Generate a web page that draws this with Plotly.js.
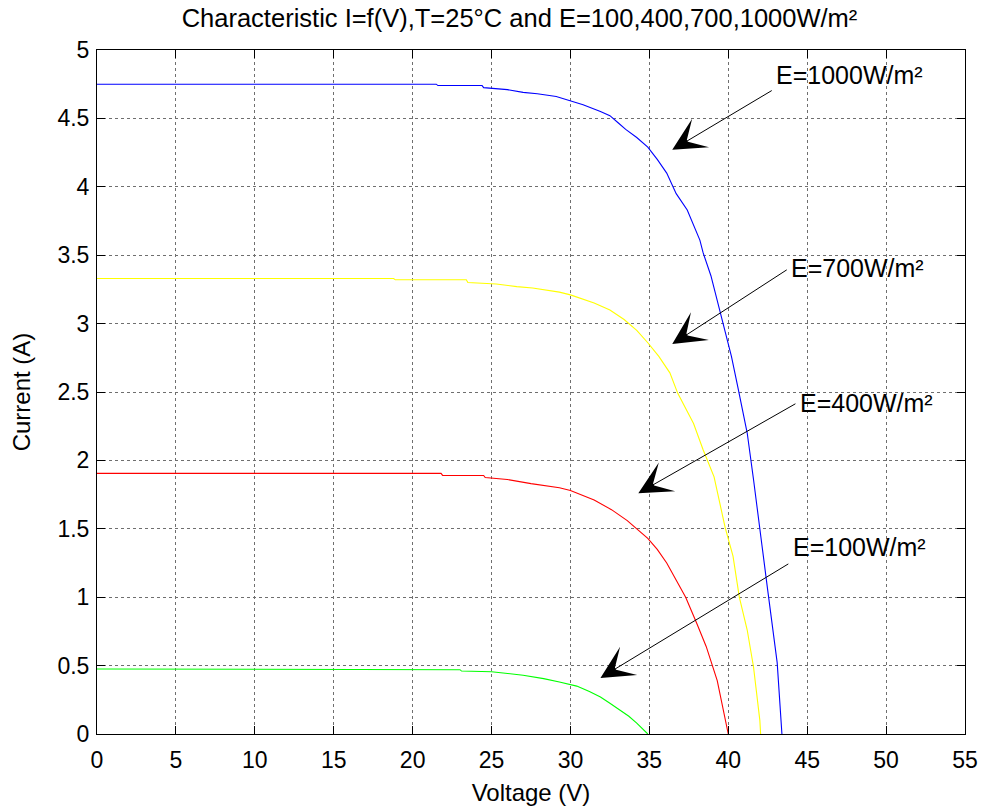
<!DOCTYPE html>
<html>
<head>
<meta charset="utf-8">
<script src="https://cdn.plot.ly/plotly-3.0.1.min.js"></script>
<style>html,body{margin:0;padding:0;background:#fff}#chart{width:983px;height:809px}</style>
</head>
<body>
<div id="chart"></div>
<script>
// E = 1000 W/m²
var v1000 = [0, 21.5, 21.6, 24.4, 24.5, 26, 27, 27.9, 29.1, 30, 30.8, 31.9, 32.5, 33.0, 33.5, 34.2, 34.9, 35.5, 36.1, 36.7, 37.4, 38.2, 38.4, 38.9, 39.3, 39.8, 40.2, 40.6, 41.2, 41.6, 42.0, 42.5, 43.1, 43.4];
var i1000 = [4.75, 4.75, 4.74, 4.74, 4.725, 4.71, 4.69, 4.68, 4.66, 4.63, 4.60, 4.55, 4.52, 4.47, 4.42, 4.36, 4.29, 4.20, 4.10, 3.95, 3.83, 3.61, 3.52, 3.35, 3.17, 2.95, 2.76, 2.54, 2.20, 1.86, 1.49, 1.05, 0.52, 0];
// E = 700 W/m²
var v700 = [0, 18.8, 18.9, 23.4, 23.5, 25.3, 26.6, 27.6, 29.3, 30, 31.5, 32.5, 33.4, 34.2, 34.9, 35.6, 36.3, 36.8, 37.8, 38.4, 39.1, 39.8, 40.3, 40.7, 41.2, 41.6, 42.0, 42.05];
var i700 = [3.33, 3.33, 3.32, 3.32, 3.30, 3.29, 3.27, 3.26, 3.23, 3.21, 3.15, 3.10, 3.03, 2.95, 2.86, 2.76, 2.64, 2.49, 2.27, 2.08, 1.88, 1.51, 1.30, 1.00, 0.76, 0.49, 0.10, 0];
// E = 400 W/m²
var v400 = [0, 21.8, 21.9, 24.5, 24.6, 26, 27.5, 29.3, 30, 31.5, 32.6, 33.6, 34.9, 35.5, 36.1, 36.7, 37.3, 38.0, 38.6, 39.3, 39.7, 40.0];
var i400 = [1.905, 1.905, 1.89, 1.89, 1.875, 1.86, 1.83, 1.80, 1.78, 1.71, 1.64, 1.56, 1.43, 1.35, 1.25, 1.13, 1.00, 0.81, 0.64, 0.39, 0.18, 0];
// E = 100 W/m²
var v100 = [0, 19, 19.1, 23, 23.1, 25, 27, 28.3, 29.3, 30.4, 31.2, 31.9, 32.5, 33.1, 33.7, 34.2, 34.9];
var i100 = [0.475, 0.475, 0.47, 0.47, 0.46, 0.455, 0.43, 0.405, 0.38, 0.35, 0.31, 0.27, 0.225, 0.18, 0.13, 0.08, 0];

var xTicks = [0,5,10,15,20,25,30,35,40,45,50,55];
var yTicks = [0,0.5,1,1.5,2,2.5,3,3.5,4,4.5,5];

// annotation labels, arrow tips and tails (data units)
var labels = ['E=1000W/m²', 'E=700W/m²', 'E=400W/m²', 'E=100W/m²'];
var labelX = [42.9, 43.85, 44.4, 43.95];
var labelY = [4.815, 3.408, 2.42, 1.37];
var tipX = [36.45, 36.45, 34.3, 31.9];
var tipY = [4.27, 2.85, 1.76, 0.41];
var tailX = [42.85, 43.8, 44.35, 43.9];
var tailY = [4.71, 3.40, 2.42, 1.25];

var FONT = 'Arial, "Liberation Sans", sans-serif';

var traces = [
  {x: v1000, y: i1000, color: '#0000ff'},
  {x: v700, y: i700, color: '#ffff00'},
  {x: v400, y: i400, color: '#ff0000'},
  {x: v100, y: i100, color: '#00ff00'}
].map(function(t){
  return {x: t.x, y: t.y, type: 'scatter', mode: 'lines', line: {color: t.color, width: 1.1}, hoverinfo: 'skip', showlegend: false};
});

var annotations = [];
for (var k = 0; k < labels.length; k++) {
  annotations.push({
    x: tipX[k], y: tipY[k], ax: tailX[k], ay: tailY[k], axref: 'x', ayref: 'y', xref: 'x', yref: 'y',
    text: '', showarrow: true, arrowhead: 3, arrowsize: 5.5, arrowwidth: 1, arrowcolor: '#000', standoff: 0, startstandoff: 0
  });
  annotations.push({
    x: labelX[k], y: labelY[k], xref: 'x', yref: 'y', text: labels[k], showarrow: false,
    xanchor: 'left', yanchor: 'middle', font: {family: FONT, size: 25, color: '#000'}
  });
}

var axisCommon = {
  showline: true, linecolor: '#000', linewidth: 1, mirror: 'ticks',
  ticks: 'inside', ticklen: 8, tickwidth: 1, tickcolor: '#000',
  showgrid: true, gridcolor: '#6f6f6f', griddash: 'dot', gridwidth: 1,
  zeroline: false, tickfont: {family: FONT, size: 23, color: '#000'}, fixedrange: true
};

var layout = {
  width: 983, height: 809,
  margin: {l: 97, r: 18, t: 50, b: 75},
  paper_bgcolor: '#fff', plot_bgcolor: '#fff',
  font: {family: FONT, color: '#000'},
  title: {text: 'Characteristic I=f(V),T=25°C and E=100,400,700,1000W/m²', font: {family: FONT, size: 25.5, color: '#000'},
          x: 0.5285, xanchor: 'center', xref: 'container', y: 0.978, yanchor: 'middle', yref: 'container'},
  xaxis: Object.assign({}, axisCommon, {range: [0, 55], tickvals: xTicks, ticktext: xTicks.map(String), ticklabelstandoff: 5,
          title: {text: 'Voltage (V)', font: {family: FONT, size: 24, color: '#000'}, standoff: 12}}),
  yaxis: Object.assign({}, axisCommon, {range: [0, 5], tickvals: yTicks, ticktext: yTicks.map(String), ticklabelstandoff: 2,
          title: {text: 'Current (A)', font: {family: FONT, size: 24, color: '#000'}, standoff: 20}}),
  annotations: annotations
};

Plotly.newPlot('chart', traces, layout, {displayModeBar: false, staticPlot: true});
</script>
</body>
</html>
